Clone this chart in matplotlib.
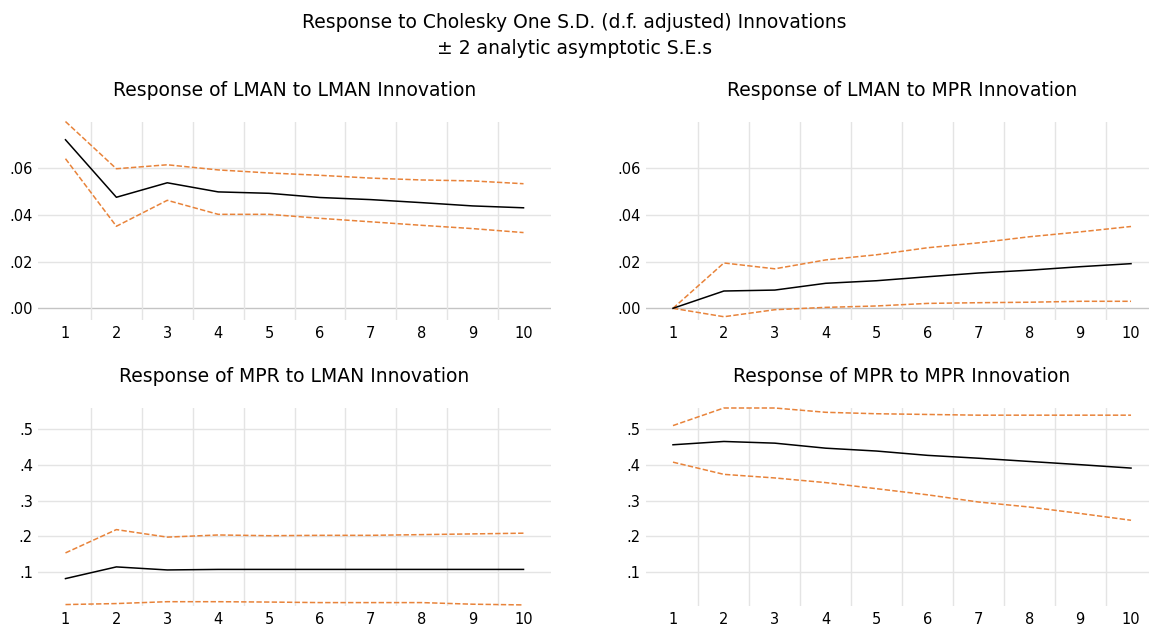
import matplotlib
matplotlib.use('Agg')
import matplotlib.pyplot as plt

plt.rcParams['font.family'] = ['DejaVu Sans']

periods = [1, 2, 3, 4, 5, 6, 7, 8, 9, 10]

# Response of LMAN to LMAN
lman_lman = [0.0721, 0.0475, 0.0537, 0.0498, 0.0492, 0.0474, 0.0465, 0.0452, 0.0438, 0.0430]
lman_lman_up = [0.0799, 0.0597, 0.0614, 0.0592, 0.0579, 0.0569, 0.0557, 0.0549, 0.0545, 0.0533]
lman_lman_lo = [0.0640, 0.0351, 0.0462, 0.0402, 0.0402, 0.0385, 0.0370, 0.0355, 0.0341, 0.0324]

# Response of LMAN to MPR
lman_mpr = [0.0, 0.0074, 0.0078, 0.0107, 0.0118, 0.0135, 0.0151, 0.0163, 0.0178, 0.0191]
lman_mpr_up = [0.0, 0.0194, 0.0169, 0.0207, 0.0229, 0.0259, 0.0280, 0.0306, 0.0327, 0.0350]
lman_mpr_lo = [0.0, -0.0036, -0.0006, 0.0004, 0.0010, 0.0021, 0.0024, 0.0026, 0.0030, 0.0030]

# Response of MPR to LMAN
mpr_lman = [0.0824, 0.115, 0.1065, 0.108, 0.108, 0.108, 0.108, 0.108, 0.108, 0.108]
mpr_lman_up = [0.154, 0.219, 0.198, 0.204, 0.202, 0.203, 0.203, 0.205, 0.207, 0.209]
mpr_lman_lo = [0.010, 0.0128, 0.018, 0.018, 0.017, 0.0155, 0.0155, 0.0155, 0.011, 0.009]

# Response of MPR to MPR
mpr_mpr = [0.4555, 0.4647, 0.460, 0.446, 0.438, 0.426, 0.418, 0.409, 0.400, 0.3905]
mpr_mpr_up = [0.509, 0.558, 0.558, 0.546, 0.542, 0.540, 0.538, 0.538, 0.538, 0.538]
mpr_mpr_lo = [0.407, 0.373, 0.363, 0.350, 0.333, 0.316, 0.296, 0.282, 0.264, 0.245]

panels = [
    ('Response of LMAN to LMAN Innovation', lman_lman, lman_lman_up, lman_lman_lo),
    ('Response of LMAN to MPR Innovation', lman_mpr, lman_mpr_up, lman_mpr_lo),
    ('Response of MPR to LMAN Innovation', mpr_lman, mpr_lman_up, mpr_lman_lo),
    ('Response of MPR to MPR Innovation', mpr_mpr, mpr_mpr_up, mpr_mpr_lo),
]
top_ticks = [0.00, 0.02, 0.04, 0.06]
top_labels = ['.00', '.02', '.04', '.06']
bot_ticks = [0.1, 0.2, 0.3, 0.4, 0.5]
bot_labels = ['.1', '.2', '.3', '.4', '.5']

orange = '#E8833A'
grid_c = '#E4E4E4'

W, H = 1149, 628
fig = plt.figure(figsize=(W / 100, H / 100), dpi=100)
fig.text(0.5, 1 - 27.5 / H, 'Response to Cholesky One S.D. (d.f. adjusted) Innovations',
         ha='center', va='baseline', fontsize=13.5)
fig.text(0.5, 1 - 54 / H, '\u00b1 2 analytic asymptotic S.E.s',
         ha='center', va='baseline', fontsize=13.5)

# axes boxes in pixels: left, top, right, bottom
boxes = [(38, 122, 551, 320), (645.5, 122, 1158.5, 320),
         (38, 408, 551, 606), (645.5, 408, 1158.5, 606)]

for i, (title, resp, up, lo) in enumerate(panels):
    l, t, r, b = boxes[i]
    ax = fig.add_axes([l / W, 1 - b / H, (r - l) / W, (b - t) / H])
    for s in ax.spines.values():
        s.set_visible(False)
    ax.set_xlim(0.46, 10.54)
    if i < 2:
        ax.set_ylim(-0.005, 0.0797)
        ax.set_yticks(top_ticks)
        ax.set_yticklabels(top_labels)
        yt = top_ticks
    else:
        ax.set_ylim(0.006, 0.558)
        ax.set_yticks(bot_ticks)
        ax.set_yticklabels(bot_labels)
        yt = bot_ticks
    for v in yt:
        ax.axhline(v, color='#C4C4C4' if v == 0 else grid_c, lw=1.0, zorder=1)
    for xv in periods[:-1]:
        ax.axvline(xv + 0.5, color=grid_c, lw=1.0, zorder=1)
    ax.plot(periods, up, color=orange, lw=1.1, ls=(0, (3.5, 1.5)), zorder=3, clip_on=False)
    ax.plot(periods, lo, color=orange, lw=1.1, ls=(0, (3.5, 1.5)), zorder=3, clip_on=False)
    ax.plot(periods, resp, color='black', lw=1.1, zorder=4, clip_on=False)
    ax.set_xticks(periods)
    ax.tick_params(length=0, labelsize=10.5)
    ax.tick_params(axis='y', pad=3.6)
    ax.tick_params(axis='x', pad=4.5)
    ax.annotate(title, xy=(0.5, 1), xycoords='axes fraction', xytext=(0, 18.7),
                textcoords='offset points', ha='center', va='baseline', fontsize=13.5)

plt.savefig('out.png', dpi=100)
